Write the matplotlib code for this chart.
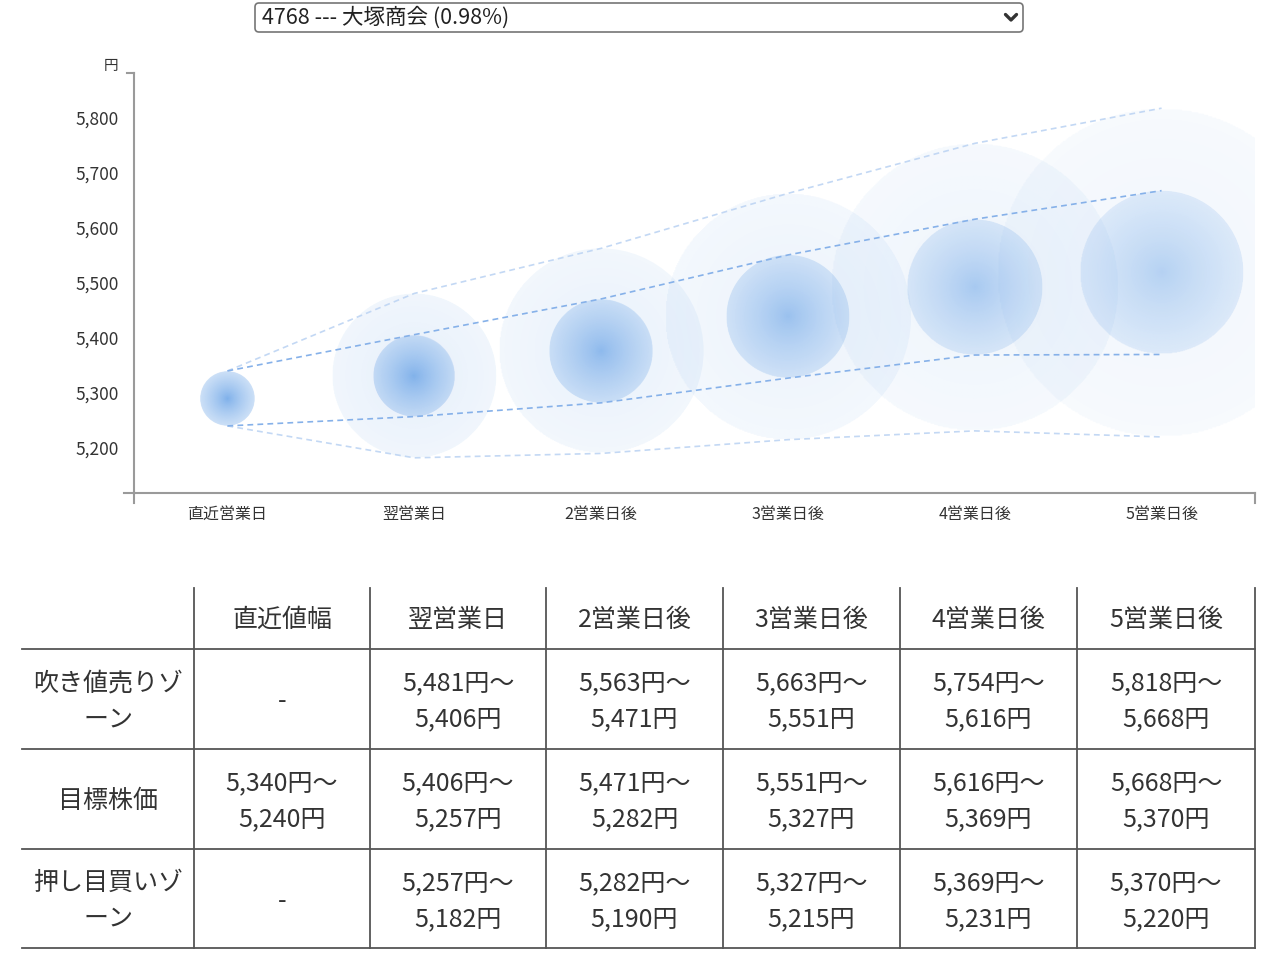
import numpy as np
import matplotlib
matplotlib.use('Agg')
import matplotlib.pyplot as plt
from matplotlib.patches import Ellipse, FancyBboxPatch

plt.rcParams['font.family'] = ['Noto Sans CJK JP', 'DejaVu Sans']

# ---- data ----
select_label = '4768 --- 大塚商会 (0.98%)'
days = ['直近営業日', '翌営業日', '2営業日後', '3営業日後', '4営業日後', '5営業日後']
table_cols = ['直近値幅', '翌営業日', '2営業日後', '3営業日後', '4営業日後', '5営業日後']
row_names = ['吹き値売りゾ\nーン', '目標株価', '押し目買いゾ\nーン']

sell_hi = [None, 5481, 5563, 5663, 5754, 5818]
sell_lo = [None, 5406, 5471, 5551, 5616, 5668]
target_hi = [5340, 5406, 5471, 5551, 5616, 5668]
target_lo = [5240, 5257, 5282, 5327, 5369, 5370]
buy_hi = [None, 5257, 5282, 5327, 5369, 5370]
buy_lo = [None, 5182, 5190, 5215, 5231, 5220]
yticks = [5200, 5300, 5400, 5500, 5600, 5700, 5800]

W, H = 1280, 957
fig = plt.figure(figsize=(W / 100, H / 100), dpi=100)

# overlay in pixel coordinates for the select box, table and axis end ticks
ov = fig.add_axes([0, 0, 1, 1])
ov.set_xlim(0, W)
ov.set_ylim(H, 0)
ov.axis('off')

# chart axes
left, right, top, bottom = 134, 1255, 73, 493
ax = fig.add_axes([left / W, 1 - bottom / H, (right - left) / W, (bottom - top) / H])
ax.patch.set_alpha(0)

all_vals = [v for s in (sell_hi, target_hi, target_lo, buy_lo) for v in s if v is not None]
ymin, ymax = min(all_vals) - 64, max(all_vals) + 64
xs = np.arange(len(days))
ax.set_xlim(-0.5, len(days) - 0.5)
ax.set_ylim(ymin, ymax)

# pixel per data unit, used to keep the bubbles round
px_x = (right - left) / (len(days))
px_y = (bottom - top) / (ymax - ymin)

base = np.array([74, 144, 226]) / 255.0


def bubble(cx, lo, hi, a_center, a_edge, z):
    cy = (lo + hi) / 2
    ry = (hi - lo) / 2
    rx = ry * px_y / px_x
    n = 240
    u = np.linspace(-1, 1, n)
    uu, vv = np.meshgrid(u, u)
    r = np.sqrt(uu ** 2 + vv ** 2)
    alpha = a_center + (a_edge - a_center) * np.clip(r, 0, 1) ** 0.8
    alpha = np.where(r <= 1, alpha, 0)
    img = np.zeros((n, n, 4))
    img[..., :3] = base
    img[..., 3] = alpha
    el = Ellipse((cx, cy), 2 * rx, 2 * ry, facecolor='none', edgecolor='none')
    ax.add_patch(el)
    im = ax.imshow(img, extent=[cx - rx, cx + rx, cy - ry, cy + ry], origin='lower',
                   interpolation='bilinear', aspect='auto', zorder=z)
    im.set_clip_path(el)


for i in range(len(days)):
    m = 1 - 0.1 * i
    if sell_hi[i] is not None:
        bubble(xs[i], buy_lo[i], sell_hi[i], 0.17 * m, 0.09 * m, 1 + i)
    bubble(xs[i], target_lo[i], target_hi[i], 0.72 * m, 0.28 * m, 1.5 + i)

ax.set_xlim(-0.5, len(days) - 0.5)
ax.set_ylim(ymin, ymax)

# range lines
upper_outer = [target_hi[0]] + sell_hi[1:]
lower_outer = [target_lo[0]] + buy_lo[1:]
light = '#c3d8f4'
mid = '#86b1e9'
ax.plot(xs, upper_outer, color=light, lw=1.2, dashes=(3.5, 2.5), zorder=10)
ax.plot(xs, lower_outer, color=light, lw=1.2, dashes=(3.5, 2.5), zorder=10)
ax.plot(xs, target_hi, color=mid, lw=1.2, dashes=(3.5, 2.5), zorder=10)
ax.plot(xs, target_lo, color=mid, lw=1.2, dashes=(3.5, 2.5), zorder=10)

# axes styling
for s in ['top', 'right']:
    ax.spines[s].set_visible(False)
for s in ['left', 'bottom']:
    ax.spines[s].set_color('#9a9a9a')
    ax.spines[s].set_linewidth(1.5)
ax.set_yticks(yticks)
ax.set_yticklabels([f'{v:,}' for v in yticks])
ax.set_xticks(xs)
ax.set_xticklabels(days)
ax.tick_params(axis='y', length=0, pad=11, labelsize=12.5, labelcolor='#333333')
ax.tick_params(axis='x', length=0, pad=9, labelsize=11.5, labelcolor='#333333')

# axis end ticks
tc = '#9a9a9a'
ov.plot([124, left], [bottom, bottom], color=tc, lw=1.5)
ov.plot([127, left], [top, top], color=tc, lw=1.5)
ov.plot([left, left], [bottom, 503], color=tc, lw=1.5)
ov.plot([right, right], [bottom, 503], color=tc, lw=1.5)
ov.text(118, 66, '円', ha='right', va='center', fontsize=10.5, color='#333333')

# select box
ov.add_patch(FancyBboxPatch((255, 3), 768, 29, boxstyle='round,pad=0,rounding_size=4',
                            facecolor='white', edgecolor='#767676', lw=1.2))
ov.text(262, 18, select_label, ha='left', va='center', fontsize=15.5, color='#222222')
ov.plot([1005.5, 1011, 1016.5], [14.5, 20, 14.5], color='#333333', lw=2.4,
        solid_capstyle='round', solid_joinstyle='round')

# table
col_x = [22, 194, 370, 546, 723, 900, 1077, 1255]
row_y = [588, 649, 749, 849, 948]
lc = '#555555'
for y in row_y[1:]:
    ov.plot([col_x[0], col_x[-1]], [y, y], color=lc, lw=1.3)
for x in col_x[1:]:
    ov.plot([x, x], [row_y[0], row_y[-1]], color=lc, lw=1.3)

tcol = '#333333'
fs = 18
cx = [(col_x[k] + col_x[k + 1]) / 2 for k in range(len(col_x) - 1)]
for k, name in enumerate(table_cols):
    ov.text(cx[k + 1], (row_y[0] + row_y[1]) / 2 + 1.5, name, ha='center', va='center',
            fontsize=fs, color=tcol)

rows = [(sell_hi, sell_lo), (target_hi, target_lo), (buy_hi, buy_lo)]
for r, (hi, lo) in enumerate(rows):
    yc = (row_y[r + 1] + row_y[r + 2]) / 2 + 2.5
    ov.text(cx[0], yc, row_names[r], ha='center', va='center', fontsize=fs,
            color=tcol, linespacing=1.5)
    for k in range(len(table_cols)):
        if hi[k] is None:
            txt = '-'
        else:
            txt = f'{hi[k]:,}円〜\n{lo[k]:,}円'
        ov.text(cx[k + 1], yc, txt, ha='center', va='center', fontsize=fs,
                color=tcol, linespacing=1.5)

fig.savefig('out.png', dpi=100)
